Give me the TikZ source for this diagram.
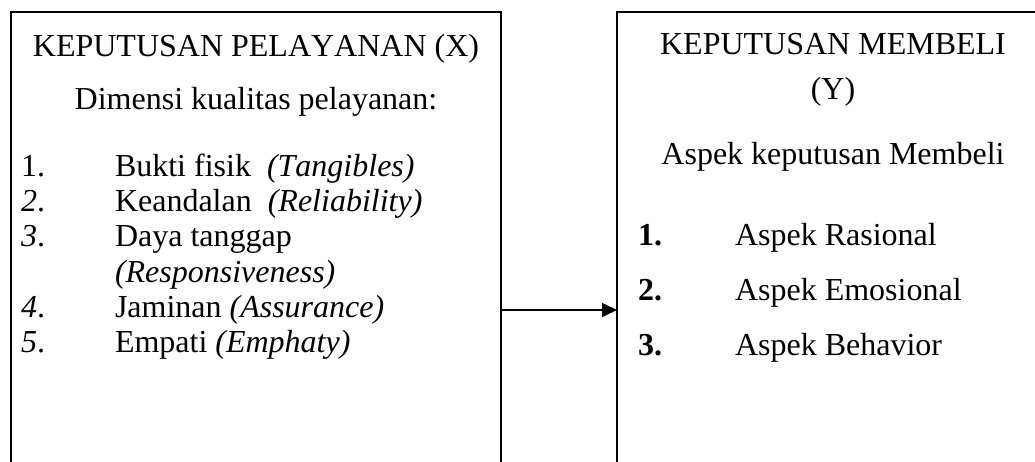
\documentclass[tikz,border=0pt]{standalone}
\usepackage{fontspec}
\setmainfont{Liberation Serif}[Kerning=Off]
\usetikzlibrary{arrows.meta}
\tikzset{
  frame/.style={draw=black, line width=1.5pt, fill=none, inner sep=0pt, outer sep=0pt},
  txt/.style={inner sep=0pt, outer sep=0pt, font=\fontsize{32}{35}\selectfont},
  ctr/.style={txt, anchor=base},
  lft/.style={txt, anchor=base west},
  link/.style={line width=1.5pt, -{Triangle[length=15pt,width=14pt]}}
}
\begin{document}
\begin{tikzpicture}[x=1pt,y=-1pt]
\useasboundingbox (0,0) rectangle (1035,462);
\fill[white] (0,0) rectangle (1035,462);
\clip (0,0) rectangle (1035,462);
% boxes
\node[frame, minimum width=490pt, minimum height=520pt, anchor=north west] (L) at (11,12) {};
\node[frame, minimum width=432pt, minimum height=520pt, anchor=north west] (R) at (617,12) {};
% left texts
\node[ctr] (lt) at (256,57) {KEPUTUSAN PELAYANAN (X)};
\node[ctr] (ld) at (256,110) {Dimensi kualitas pelayanan:};
\node[lft] (n1) at (21,177) {1.};
\node[lft] (t1) at (115,177) {Bukti fisik \ \textit{(Tangibles)}};
\node[lft] (n2) at (21,212) {\textit{2}.};
\node[lft] (t2) at (115,212) {Keandalan \ \textit{(Reliability)}};
\node[lft] (n3) at (21,247) {\textit{3}.};
\node[lft] (t3) at (115,247) {Daya tanggap};
\node[lft] (t3b) at (115,282) {\textit{(Responsiveness)}};
\node[lft] (n4) at (21,317) {\textit{4}.};
\node[lft] (t4) at (115,317) {Jaminan \textit{(Assurance)}};
\node[lft] (n5) at (21,352) {\textit{5}.};
\node[lft] (t5) at (115,352) {Empati \textit{(Emphaty)}};
% right texts
\node[ctr] (rt) at (833,55) {KEPUTUSAN MEMBELI};
\node[ctr] (ry) at (833,100) {(Y)};
\node[ctr] (ra) at (833,165) {Aspek keputusan Membeli};
\node[lft] (m1) at (638,245) {\textbf{1.}};
\node[lft] (s1) at (735,245) {Aspek Rasional};
\node[lft] (m2) at (638,300) {\textbf{2.}};
\node[lft] (s2) at (735,300) {Aspek Emosional};
\node[lft] (m3) at (638,355) {\textbf{3.}};
\node[lft] (s3) at (735,355) {Aspek Behavior};
% connector
\coordinate (ay) at (0,310);
\draw[link] (L.east |- ay) -- (R.west |- ay);
\end{tikzpicture}
\end{document}
